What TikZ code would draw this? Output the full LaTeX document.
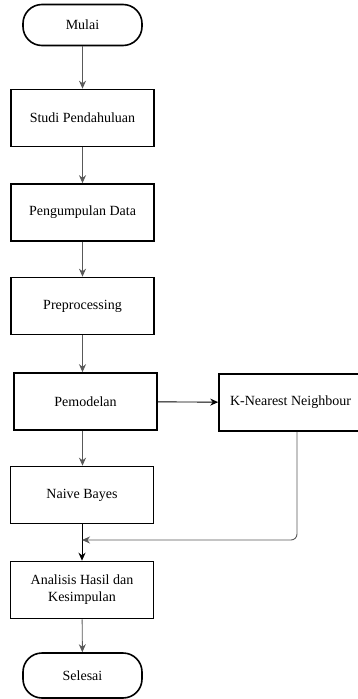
\documentclass[tikz,border=0pt]{standalone}
\usepackage{fontspec}
\setmainfont{LiberationSerif}[Extension=.ttf, UprightFont=*-Regular, BoldFont=*-Bold]
\usetikzlibrary{calc}
\usetikzlibrary{arrows.meta}

\begin{document}
\begin{tikzpicture} [x=1pt, y=-1pt,
  kotak/.style={draw=black, line width=1.6pt, minimum width=143pt, minimum height=57pt, inner sep=2pt, align=center, font=\rmfamily\fontsize{14}{17}\selectfont},
  terminal/.style={kotak, rounded corners=19pt, minimum width=119pt, minimum height=41pt},
  alur/.style={black!65, line width=0.9pt, ->, >={Stealth[length=8pt, width=7pt]}}]
\useasboundingbox (0,0) rectangle (358,699);
\node[terminal] (mulai) at (82.5,25) {Mulai};
\node[kotak] (studi) at (82.5,118) {Studi Pendahuluan};
\node[kotak] (data) at (82.5,212.5) {Pengumpulan Data};
\node[kotak] (prepro) at (82.5,306) {Preprocessing};
\node[kotak] (model) at (85.5,401.5) {Pemodelan};
\node[kotak] (knn) at (290.5,402.5) {K-Nearest Neighbour};
\node[kotak] (nb) at (82,495) {Naive Bayes};
\node[kotak] (hasil) at (82,590) {Analisis Hasil dan\\Kesimpulan};
\node[terminal, minimum height=45pt] (selesai) at (82.5,675.5) {Selesai};
\coordinate (gabung) at (82,540);
\draw[alur] (mulai) -- (studi);
\draw[alur] (studi) -- (data);
\draw[alur] (data) -- (prepro);
\draw[alur] (prepro.south -| mulai) -- (model.north -| mulai);
\draw[alur, black] (model) -- (knn);
\draw[alur] (model.south -| mulai) -- (nb.north -| mulai);
\draw[alur, black] (nb) -- (hasil);
\draw[alur, rounded corners=6] ([xshift=6.5]knn.south) |- (gabung);
\draw[alur] (hasil) -- (selesai);
\end{tikzpicture}
\end{document}
